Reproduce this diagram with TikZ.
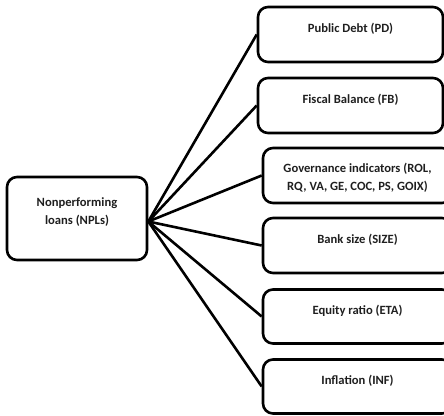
\documentclass[tikz,border=0pt]{standalone}
\usepackage{fontspec}
\setmainfont{Carlito}
\begin{document}
\begin{tikzpicture}[x=1pt,y=-1pt,
  box/.style={draw, line width=2.6pt, rounded corners=10pt, inner sep=0pt},
  lbl/.style={font=\bfseries\fontsize{12.6}{18}\selectfont, text=black!88, align=center, inner sep=0pt},
  link/.style={line width=2.6pt}]
\useasboundingbox (0,0) rectangle (444,415);
\node[box, minimum width=140pt, minimum height=83pt] (npl) at (77,218.5) {};
\node[box, minimum width=185pt, minimum height=55pt] (b1) at (350.5,34.5) {};
\node[box, minimum width=185pt, minimum height=55pt] (b2) at (350.5,105.5) {};
\node[box, minimum width=189pt, minimum height=55pt] (b3) at (357.5,175.5) {};
\node[box, minimum width=189pt, minimum height=55pt] (b4) at (357.5,245.5) {};
\node[box, minimum width=189pt, minimum height=54pt] (b5) at (357.5,316.5) {};
\node[box, minimum width=189pt, minimum height=54pt] (b6) at (357.5,386.5) {};
\node[lbl] (tn) at ([yshift=6pt]npl.center) {Nonperforming\\loans (NPLs)};
\node[lbl] (t1) at ([yshift=-23pt]b1.north) {Public Debt (PD)};
\node[lbl] (t2) at ([yshift=-23pt]b2.north) {Fiscal Balance (FB)};
\node[lbl] (t3) at ([yshift=-31pt]b3.north) {Governance indicators (ROL,\\RQ, VA, GE, COC, PS, GOIX)};
\node[lbl] (t4) at ([yshift=-23pt]b4.north) {Bank size (SIZE)};
\node[lbl] (t5) at ([yshift=-23pt]b5.north) {Equity ratio (ETA)};
\node[lbl] (t6) at ([yshift=-23pt]b6.north) {Inflation (INF)};
\coordinate (hub) at ([yshift=-3pt]npl.east);
\foreach \b in {b1,b2,b3,b4,b5,b6}{
  \draw[link] (hub) -- (\b.west);
}
\end{tikzpicture}
\end{document}
